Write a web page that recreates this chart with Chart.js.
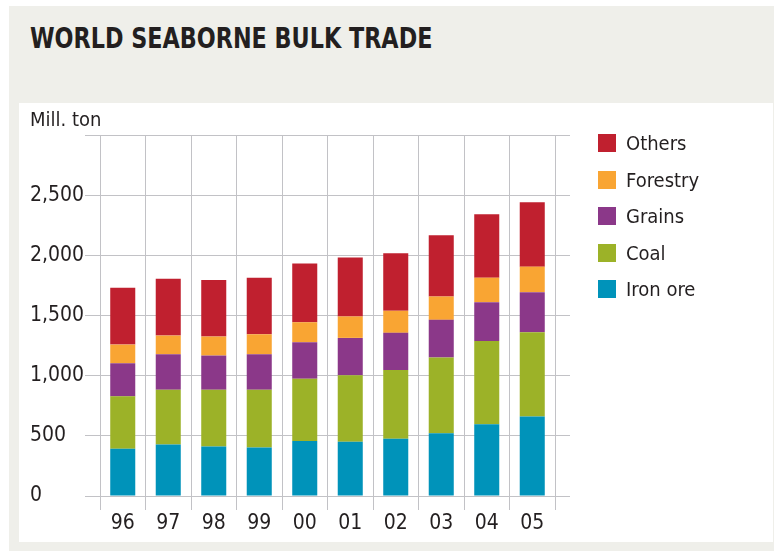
<!DOCTYPE html>
<html>
<head>
<meta charset="utf-8">
<script src="https://cdn.jsdelivr.net/npm/chart.js@4/dist/chart.umd.min.js"></script>
<style>
body { margin: 0; background: #fff; width: 774px; height: 551px; position: relative; overflow: hidden;
       font-family: 'DejaVu Sans Condensed', 'Liberation Sans Narrow', sans-serif; color: #231f20; }
#bg { position: absolute; left: 9px; top: 6px; width: 765px; height: 545px; background: #efefea; }
#title { position: absolute; left: 30px; top: 23px; font-size: 28px; font-weight: bold; line-height: 32px;
         transform-origin: 0 0; white-space: nowrap; }
#panel { position: absolute; left: 19px; top: 103px; width: 754px; height: 439px; background: #fff; }
#unit { position: absolute; left: 11px; top: 4px; font-size: 20px; line-height: 24px; }
#legend { position: absolute; left: 579px; top: 28px; }
.item { position: absolute; left: 0; height: 26px; font-size: 20px; line-height: 26px; white-space: nowrap; }
.item span { position: absolute; left: 0; top: 3px; width: 18px; height: 18px; }
.item b { position: absolute; left: 28px; top: -1px; font-weight: normal; }
</style>
</head>
<body>
<div id="bg"></div>
<div id="title">WORLD SEABORNE BULK TRADE</div>
<div id="panel">
  <div id="unit">Mill. ton</div>
  <canvas id="myChart" width="754" height="439"></canvas>
  <div id="legend"></div>
</div>
<script>
// years and tonnage per cargo, million tons
var years = ['96', '97', '98', '99', '00', '01', '02', '03', '04', '05'];
var ironOre = [392, 428, 411, 403, 458, 450, 475, 522, 597, 661];
var coal = [436, 455, 472, 480, 517, 553, 572, 628, 692, 700];
var grains = [275, 295, 284, 295, 303, 311, 309, 314, 322, 333];
var forestry = [155, 155, 158, 166, 166, 178, 183, 194, 203, 212];
var others = [473, 473, 469, 470, 489, 489, 478, 509, 528, 536];
var yTicks = [0, 500, 1000, 1500, 2000, 2500, 3000];

var fontFamily = "'DejaVu Sans Condensed', 'Liberation Sans Narrow', sans-serif";
var gridColor = '#c2c2c6';

var series = [
    { label: 'Iron ore', color: '#0093ba', data: ironOre },
    { label: 'Coal', color: '#9cb228', data: coal },
    { label: 'Grains', color: '#8b3889', data: grains },
    { label: 'Forestry', color: '#f9a533', data: forestry },
    { label: 'Others', color: '#c0202f', data: others }
];

// squeeze the title to the width of the original lettering
var title = document.getElementById('title');
title.style.transform = 'scaleX(' + (402 / title.offsetWidth) + ')';

var ctx = document.getElementById('myChart').getContext('2d');
var chart = new Chart(ctx, {
    type: 'bar',
    data: {
        labels: years,
        datasets: series.map(function(s) {
            return {
                label: s.label,
                data: s.data,
                backgroundColor: s.color,
                borderWidth: 0,
                barPercentage: 0.55,
                categoryPercentage: 1
            };
        })
    },
    options: {
        responsive: false,
        animation: false,
        layout: { padding: { left: 11, right: 203, top: 32, bottom: 0 } },
        plugins: { legend: { display: false }, tooltip: { enabled: false } },
        scales: {
            x: {
                stacked: true,
                border: { display: false },
                grid: { offset: true, color: gridColor, lineWidth: 1, drawTicks: true, tickLength: 14 },
                ticks: { color: '#231f20', font: { family: fontFamily, size: 21 }, padding: 1 },
                afterFit: function(scale) { scale.height = 46; }
            },
            y: {
                stacked: true,
                min: yTicks[0],
                max: yTicks[yTicks.length - 1],
                border: { display: false },
                grid: { color: gridColor, lineWidth: 1, drawTicks: true, tickLength: 15 },
                ticks: {
                    stepSize: 500,
                    crossAlign: 'far',
                    color: '#231f20',
                    font: { family: fontFamily, size: 21 },
                    callback: function(v) { return v === 3000 ? '' : v.toLocaleString('en-US'); }
                },
                afterFit: function(scale) { scale.width = 70; }
            },
            y2: {
                position: 'right',
                min: yTicks[0],
                max: yTicks[yTicks.length - 1],
                border: { display: false },
                grid: { color: gridColor, lineWidth: 1, drawOnChartArea: false, drawTicks: true, tickLength: 15 },
                ticks: { stepSize: 500, display: false },
                afterFit: function(scale) { scale.width = 15; }
            }
        }
    }
});

// legend on the right, top item is the top of the stack
var legend = document.getElementById('legend');
series.slice().reverse().forEach(function(s, i) {
    var item = document.createElement('div');
    item.className = 'item';
    item.style.top = (i * 36.5) + 'px';
    item.innerHTML = '<span style="background:' + s.color + '"></span><b>' + s.label + '</b>';
    legend.appendChild(item);
});
</script>
</body>
</html>
